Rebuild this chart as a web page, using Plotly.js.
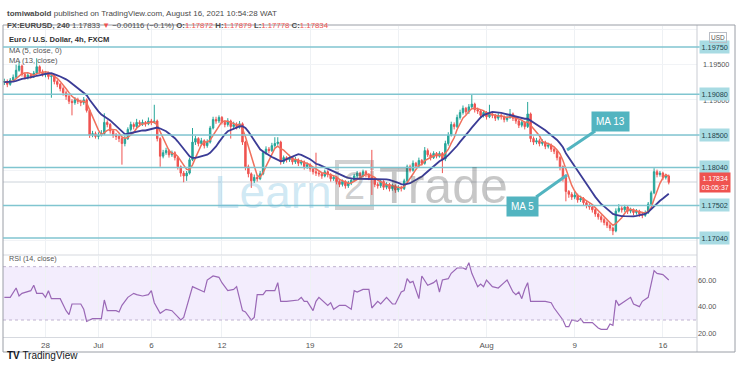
<!DOCTYPE html>
<html><head><meta charset="utf-8">
<script src="https://cdn.plot.ly/plotly-3.0.1.min.js"></script>
<style>html,body{margin:0;padding:0;background:#fff;}#chart{width:740px;height:373px;}</style>
</head><body><div id="chart"></div>
<script>
// ---- DATA (prices in pips above 1.1700) ----
const basePrice = 1.17;
const firstIndex = -14;               // bar index of first visible 4h candle (0 = Jun 28 00:00)
const warmupClose = [222,226,224,228,225,221,224,227,223,226,229,225]; // bars -26..-15 (for MA)
const closePips = [
 226,222,228,232,242,248,236,232,235,233,238,247,240,236,
 238,233,234,226,222,216,210,205,198,196,
 200,198,196,200,185,150,152,148,150,152,
 168,165,156,150,148,145,138,145,158,165,
 162,168,166,168,166,170,168,170,145,120,
 125,128,122,125,118,105,96,92,96,115,
 140,145,138,142,135,140,160,172,170,175,
 168,165,170,162,165,162,166,140,105,95,
 85,90,88,95,125,130,128,135,138,140,
 112,118,115,118,112,115,110,112,105,108,
 102,98,96,95,92,98,94,88,90,84,
 80,84,78,82,86,92,96,92,98,94,
 90,88,80,78,84,76,80,74,78,72,
 76,74,85,105,100,110,106,114,110,128,
 122,118,124,120,124,116,138,150,165,162,
 175,182,188,183,190,194,186,184,178,182,
 176,180,178,174,178,176,172,175,180,174,
 170,164,168,162,180,145,140,142,138,140,
 134,136,130,127,118,105,90,70,66,62,
 65,58,60,54,50,48,44,38,34,30,
 26,22,18,14,42,46,44,48,42,44,
 40,42,38,36,40,52,68,98,94,96,
 90,92,83];
const highPips = [
 230,229,231,236,250,254,250,239,238,238,241,259,249,243,
 241,240,237,236,229,224,219,213,208,201,
 204,203,200,204,202,187,156,155,154,157,
 181,171,167,158,153,150,147,149,161,169,
 168,173,171,172,170,175,173,193,172,147,
 129,132,130,128,127,120,107,99,99,118,
 160,149,147,146,144,144,163,176,176,178,
 177,171,174,172,169,168,170,168,142,108,
 97,94,93,99,128,134,133,139,147,147,
 142,121,120,122,120,119,117,115,114,111,
 110,104,125,99,97,101,100,96,93,92,
 86,87,86,85,89,95,99,98,101,100,
 96,129,90,83,87,86,83,82,81,80,
 79,78,88,108,108,114,112,118,116,133,
 131,125,127,126,127,126,142,154,169,168,
 179,186,192,190,194,207,196,189,186,185,
 184,193,182,180,181,180,178,178,187,182,
 176,172,171,170,197,182,148,146,145,144,
 142,139,138,133,129,120,107,92,72,69,
 70,67,64,62,57,53,51,46,40,37,
 33,29,25,20,46,52,49,51,50,47,
 46,45,44,41,43,55,71,103,101,99,
 98,95,94];
const lowPips = [
 221,218,220,226,230,240,233,229,229,230,231,236,237,233,
 232,229,203,222,218,212,206,200,194,178,
 193,194,191,193,182,146,147,145,144,148,
 150,161,152,146,143,140,108,134,143,155,
 158,160,162,163,162,164,164,166,141,105,
 117,122,118,119,114,101,91,83,85,94,
 113,136,134,135,131,132,138,158,166,167,
 165,161,162,145,159,158,159,136,100,90,
 75,82,84,86,93,122,124,126,132,135,
 108,109,111,112,108,109,106,107,101,102,
 98,94,92,91,88,90,90,84,85,80,
 76,77,74,75,79,84,89,88,90,90,
 86,65,76,74,75,72,73,70,71,68,
 69,70,72,83,97,98,103,104,107,108,
 119,114,116,117,118,96,113,135,148,158,
 160,172,179,179,180,187,182,180,174,175,
 172,174,174,170,171,172,168,169,173,170,
 166,160,161,158,160,140,136,137,134,135,
 130,131,126,123,114,100,84,56,61,58,
 59,54,55,50,46,44,40,34,30,26,
 22,18,14,8,12,40,40,41,38,39,
 36,37,34,32,34,38,50,66,90,91,
 86,87,80];
const rsiIdx = [-14,-12,-10,-9,-8,-5,-4,-3,-1,0,1,2,5,6,7,8,9,12,13,14,16,19,20,21,24,25,26,28,30,31,
 33,35,36,37,39,41,43,46,47,50,53,54,55,57,59,60,62,64,65,67,68,70,71,72,74,75,78,79,80,82,
 86,87,88,89,91,92,93,96,97,98,100,102,104,105,106,108,110,111,113,114,116,118,119,121,122,123,124,125,127,128,
 130,132,133,134,135,137,138,140,142,143,144,145,147,148,149,150,152,154,156,157,159,160,161,162,163,164,165,167,170,172,
 173,176,177,178,179,181,182,183,186,188,189,191,192,193,194,195,197,199,200,202,203,205,207,208,210,212];
const rsiVal = [47,47,54,48,50,52,56,50,50,47,52,46,46,41,37,34,42,42,38,29,31,31,45,37,37,36,41,47,50,49,
 48,49,52,43,35,38,37,30,32,55,52,51,60,63,62,58,52,53,55,37,36,30,32,49,49,52,52,58,44,44,
 45,47,44,44,37,44,47,41,43,38,41,41,38,52,51,53,53,39,44,42,47,42,42,51,52,61,58,59,46,63,
 56,58,60,51,60,61,65,69,69,68,73,65,55,57,55,60,55,54,58,60,51,49,51,46,53,58,44,44,44,43,
 39,30,25,25,30,29,31,28,28,24,23,23,27,26,45,41,44,47,42,40,44,47,67,65,64,60];
const tickIndex = [0,18,36,60,90,120,150,180,210];
const tickLabels = ['28','Jul','6','12','19','26','Aug','9','16'];
const levels = [1.1975,1.1908,1.185,1.1804,1.17502,1.1704];
const levelLabels = ['1.19750','1.19080','1.18500','1.18040','1.17502','1.17040'];
const lastPrice = 1.17834;
const lastLabel = '1.17834<br>03:05:37';

// ---- derived through library-facing arrays ----
const px = p => +(basePrice + p/10000).toFixed(5);
const allClose = warmupClose.concat(closePips);
const nW = warmupClose.length;
const xs = closePips.map((_,i)=>firstIndex+i);
const openP = closePips.map((_,i)=>px(allClose[nW+i-1]));
const sma = n => closePips.map((_,i)=>{let s=0;for(let k=0;k<n;k++) s+=allClose[nW+i-k];return px(s/n);});

const F = 'Liberation Sans, Arial, sans-serif';
const traces = [
 {type:'candlestick', x:xs, open:openP, high:highPips.map(px), low:lowPips.map(px), close:closePips.map(px),
  xaxis:'x', yaxis:'y', whiskerwidth:0, hoverinfo:'skip', showlegend:false,
  increasing:{line:{color:'#26a69a',width:1},fillcolor:'#26a69a'},
  decreasing:{line:{color:'#ef5350',width:1},fillcolor:'#ef5350'}},
 {type:'scatter', mode:'lines', x:xs, y:sma(5), xaxis:'x', yaxis:'y', line:{color:'#f0705c',width:1.5}, showlegend:false, hoverinfo:'skip'},
 {type:'scatter', mode:'lines', x:xs, y:sma(13), xaxis:'x', yaxis:'y', line:{color:'#3b3c96',width:1.8}, showlegend:false, hoverinfo:'skip'},
 {type:'scatter', mode:'lines', x:rsiIdx, y:rsiVal, xaxis:'x', yaxis:'y2', line:{color:'#9a68b6',width:1.2}, showlegend:false, hoverinfo:'skip'}
];

const PT=26, PB=337, PL=3, PR=697;
const py = ypx => (PB-ypx)/(PB-PT);      // page pixel -> paper y
const pxp = xpx => (xpx-PL)/(PR-PL);     // page pixel -> paper x

const shapes = [
 {type:'rect', xref:'paper', yref:'y2', x0:0, x1:1, y0:30, y1:70, fillcolor:'rgba(160,110,235,0.12)', line:{width:0}, layer:'below'},
 {type:'line', xref:'paper', yref:'y2', x0:0, x1:1, y0:70, y1:70, line:{color:'#bfb2cf',width:1,dash:'3px,3px'}},
 {type:'line', xref:'paper', yref:'y2', x0:0, x1:1, y0:30, y1:30, line:{color:'#bfb2cf',width:1,dash:'3px,3px'}},
 {type:'line', xref:'paper', yref:'y', x0:0, x1:1, y0:lastPrice, y1:lastPrice, line:{color:'#ccd3da',width:1}, layer:'below'},
 {type:'line', xref:'paper', yref:'paper', x0:0, x1:1, y0:py(255), y1:py(255), line:{color:'#d6d9df',width:1}},
 {type:'line', xref:'paper', yref:'paper', x0:1, x1:1, y0:py(352), y1:py(25), line:{color:'#c9ccd3',width:1}},
 {type:'rect', xref:'paper', yref:'paper', x0:0, x1:pxp(735), y0:py(352), y1:py(25), line:{color:'#9a9ea6',width:1}},
 {type:'rect', xref:'paper', yref:'paper', x0:pxp(337), x1:pxp(372), y0:py(208), y1:py(162), line:{color:'rgba(90,90,90,0.28)',width:4}, layer:'below'}
];
levels.forEach(l=>shapes.push({type:'line', xref:'paper', yref:'y', x0:0, x1:1.004, y0:l, y1:l, line:{color:'#80c5d0',width:1.5}}));

const red = '#ef5350';
const ann = [];
const A = o => ann.push(Object.assign({showarrow:false, xref:'paper', yref:'paper'}, o));
A({x:0, xanchor:'left', xshift:2, y:py(7), text:'<b>tomiwabold</b> published on TradingView.com, August 16, 2021 10:54:28 WAT', font:{family:F,size:8,color:'#4a4a4a'}});
A({x:0, xanchor:'left', xshift:2, y:py(19), text:'<b>FX:EURUSD, 240</b> 1.17833 <span style="color:'+red+'">▼</span> −0.00116 (−0.1%) <b>O:</b><span style="color:'+red+'">1.17872</span> <b>H:</b><span style="color:'+red+'">1.17879</span> <b>L:</b><span style="color:'+red+'">1.17778</span> <b>C:</b><span style="color:'+red+'">1.17834</span>', font:{family:F,size:7.8,color:'#4a4a4a'}});
A({x:0, xanchor:'left', xshift:4, y:py(33), text:'<b>Euro / U.S. Dollar, 4h, FXCM</b>', font:{family:F,size:7.6,color:'#333'}});
A({x:0, xanchor:'left', xshift:4, y:py(44), text:'MA (5, close, 0)', font:{family:F,size:7.6,color:'#555'}});
A({x:0, xanchor:'left', xshift:4, y:py(54), text:'MA (13, close)', font:{family:F,size:7.6,color:'#555'}});
A({x:0, xanchor:'left', xshift:4, y:py(265), text:'RSI (14, close)', font:{family:F,size:7.2,color:'#555'}});
A({x:0, xanchor:'left', xshift:2, y:py(363), text:'<b>TV</b> TradingView', font:{family:F,size:10,color:'#131722'}});
// watermark
A({x:pxp(334), xanchor:'right', y:py(192), text:'Learn', font:{family:F,size:46,color:'rgba(110,185,220,0.33)'}});
A({x:pxp(354.5), xanchor:'center', y:py(186), text:'2', font:{family:F,size:38,color:'rgba(90,90,90,0.28)'}});
A({x:pxp(377), xanchor:'left', y:py(186), text:'Trade', font:{family:F,size:50,color:'rgba(70,70,70,0.30)'}});
// right price scale
A({x:1, xanchor:'left', xshift:4, yref:'y', y:1.195, text:'1.19500', font:{family:F,size:7.3,color:'#555'}});
A({x:1, xanchor:'left', xshift:4, yref:'y', y:1.1899, text:'1.19000', font:{family:F,size:7.3,color:'#555'}});
levels.forEach((l,i)=>A({x:1, xanchor:'left', xshift:2, yref:'y', y:l, text:levelLabels[i], bgcolor:'#a8dbe3', borderpad:1.5, font:{family:F,size:7.3,color:'#24444a'}}));
A({x:1, xanchor:'left', xshift:2, yref:'y', y:lastPrice, text:lastLabel, bgcolor:red, borderpad:1.5, font:{family:F,size:7,color:'#fff'}});
A({x:1, xanchor:'left', xshift:12, y:py(32), text:'USD', bordercolor:'#b9bdc5', borderwidth:1, borderpad:1, font:{family:F,size:6.5,color:'#555'}});
// callouts
ann.push({xref:'x', yref:'y', x:177.4, y:1.18288, ax:43, ay:-29, text:'MA 13', showarrow:true, arrowhead:0, arrowwidth:3, arrowcolor:'#52b4c0', bgcolor:'#52b4c0', borderpad:4, font:{family:F,size:10,color:'#fff'}});
ann.push({xref:'x', yref:'y', x:177.4, y:1.17934, ax:-45, ay:32, text:'MA 5', showarrow:true, arrowhead:0, arrowwidth:3, arrowcolor:'#52b4c0', bgcolor:'#52b4c0', borderpad:4, font:{family:F,size:10,color:'#fff'}});

const layout = {
 width:740, height:373, margin:{l:PL, r:740-PR, t:PT, b:373-PB},
 paper_bgcolor:'#fff', plot_bgcolor:'#fff', showlegend:false, font:{family:F},
 xaxis:{anchor:'y2', range:[-14.46,221.6], tickvals:tickIndex, ticktext:tickLabels, tickfont:{family:F,size:8,color:'#555'},
        showgrid:true, gridcolor:'#eef1f4', zeroline:false, showline:true, linecolor:'#d6d9df', ticks:'', rangeslider:{visible:false}, fixedrange:true},
 yaxis:{domain:[py(255),1], anchor:'x', range:[1.16798,1.20048], side:'right', showticklabels:false,
        tickvals:[1.17,1.175,1.18,1.185,1.19,1.195,1.2], showgrid:true, gridcolor:'#f1f3f6', zeroline:false, ticks:''},
 yaxis2:{domain:[0,py(256)], anchor:'x', range:[17.25,78], side:'right', tickvals:[20,40,60], ticktext:['20.00','40.00','60.00'],
        tickfont:{family:F,size:7.3,color:'#555'}, showgrid:false, zeroline:false, ticks:''},
 shapes:shapes, annotations:ann
};
Plotly.newPlot('chart', traces, layout, {displayModeBar:false, staticPlot:true});
</script></body></html>
